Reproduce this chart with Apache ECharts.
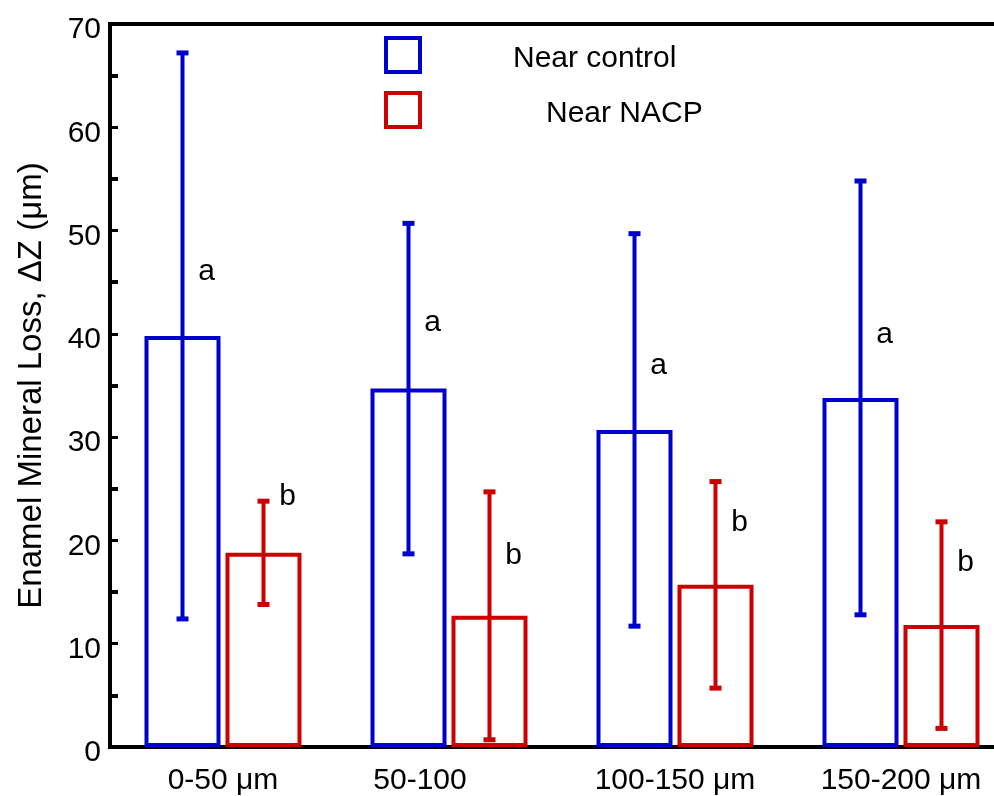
<!DOCTYPE html>
<html><head><meta charset="utf-8">
<script src="https://cdn.jsdelivr.net/npm/echarts@6/dist/echarts.min.js"></script>
<style>html,body{margin:0;padding:0;background:#fff}#c{width:994px;height:796px}</style>
</head><body><div id="c"></div>
<script>
const categories = ['0-50 μm', '50-100', '100-150 μm', '150-200 μm'];
const controlMean = [39.8, 34.7, 30.7, 33.8];
const controlSD = [27.4, 16.0, 19.0, 21.0];
const nacpMean = [18.8, 12.7, 15.7, 11.8];
const nacpSD = [5.0, 12.0, 10.0, 10.0];
const controlLetters = ['a', 'a', 'a', 'a'];
const controlLetterY = [46.0, 41.1, 36.9, 39.9];
const nacpLetters = ['b', 'b', 'b', 'b'];
const nacpLetterY = [24.2, 18.5, 21.7, 17.8];
const yTicks = [0, 10, 20, 30, 40, 50, 60, 70];

const BLUE = '#0000cc', RED = '#cc0000';
const FONT = 'Liberation Sans, Arial, sans-serif';
const BW = 76, GAP = 5; // px
const OFF = (BW + GAP) / 2;

function errRender(offset, color) {
  return function (params, api) {
    const i = api.value(0);
    const m = api.value(1), s = api.value(2);
    const x = api.coord([i, 0])[0] + offset;
    const yt = api.coord([i, m + s])[1];
    const yb = api.coord([i, m - s])[1];
    const st = { stroke: color, lineWidth: 4 };
    const cap = { stroke: color, lineWidth: 5 };
    return { type: 'group', children: [
      { type: 'line', shape: { x1: x, y1: yt, x2: x, y2: yb }, style: st },
      { type: 'line', shape: { x1: x - 6, y1: yt, x2: x + 6, y2: yt }, style: cap },
      { type: 'line', shape: { x1: x - 6, y1: yb, x2: x + 6, y2: yb }, style: cap }
    ]};
  };
}
function letterRender(offset, letters) {
  return function (params, api) {
    const i = api.value(0);
    const p = api.coord([i, api.value(1)]);
    return { type: 'text', x: p[0] + offset + 24, y: p[1],
      style: { text: letters[i], fontSize: 30, fontFamily: FONT, fill: '#000', align: 'center', verticalAlign: 'middle' } };
  };
}

const legendText = (padLeft) => ({ fontSize: 30, fontFamily: FONT, color: '#000',
  rich: { t: { fontSize: 30, fontFamily: FONT, color: '#000', padding: [8, 0, 0, padLeft] } } });

const chart = echarts.init(document.getElementById('c'), null, { renderer: 'canvas' });
chart.setOption({
  animation: false,
  backgroundColor: '#fff',
  grid: { left: 110, top: 24, width: 904, bottom: 49, show: true, borderColor: '#000', borderWidth: 4,
    backgroundColor: 'transparent', containLabel: false, outerBoundsMode: 'none' },
  legend: [
    { data: ['Near control'], left: 379, top: 31, itemWidth: 34, itemHeight: 34, icon: 'rect', selectedMode: false,
      itemStyle: { borderWidth: 4, color: '#fff' }, formatter: '{t|{name}}', textStyle: legendText(88) },
    { data: ['Near NACP'], left: 379, top: 86, itemWidth: 34, itemHeight: 34, icon: 'rect', selectedMode: false,
      itemStyle: { borderWidth: 4, color: '#fff' }, formatter: '{t|{name}}', textStyle: legendText(121) }
  ],
  xAxis: {
    type: 'category', data: categories,
    axisLine: { lineStyle: { color: '#000', width: 4 } },
    axisTick: { show: false },
    axisLabel: { fontSize: 30, fontFamily: FONT, color: '#000', margin: 19,
      formatter: v => v === '50-100' ? '{p|50-100}' : v,
      rich: { p: { fontSize: 30, fontFamily: FONT, color: '#000', padding: [0, 58, 0, 0] } } }
  },
  yAxis: {
    type: 'value', min: 0, max: 70, interval: 10,
    name: 'Enamel Mineral Loss, ΔZ (μm)', nameLocation: 'middle', nameGap: 62,
    nameTextStyle: { fontSize: 33, fontFamily: FONT, color: '#000' },
    axisLine: { show: true, lineStyle: { color: '#000', width: 4 } },
    axisTick: { show: true, inside: true, length: 8, lineStyle: { color: '#000', width: 3 } },
    minorTick: { show: true, splitNumber: 2, length: 8, lineStyle: { color: '#000', width: 4 } },
    splitLine: { show: false },
    axisLabel: { fontSize: 30, fontFamily: FONT, color: '#000', margin: 9,
      formatter: v => yTicks.includes(v) ? '{v|' + v + '}' : '',
      rich: { v: { fontSize: 30, fontFamily: FONT, color: '#000', padding: [12, 0, 0, 0] } } }
  },
  series: [
    { name: 'Near control', type: 'bar', data: controlMean, barWidth: BW, barGap: (GAP / BW * 100) + '%',
      itemStyle: { color: 'rgba(255,255,255,0)', borderColor: BLUE, borderWidth: 4 }, z: 2 },
    { name: 'Near NACP', type: 'bar', data: nacpMean, barWidth: BW,
      itemStyle: { color: 'rgba(255,255,255,0)', borderColor: RED, borderWidth: 4 }, z: 2 },
    { type: 'custom', renderItem: errRender(-OFF, BLUE), z: 3,
      data: controlMean.map((m, i) => [i, m, controlSD[i]]), encode: { x: 0, y: 1 } },
    { type: 'custom', renderItem: errRender(OFF, RED), z: 3,
      data: nacpMean.map((m, i) => [i, m, nacpSD[i]]), encode: { x: 0, y: 1 } },
    { type: 'custom', renderItem: letterRender(-OFF, controlLetters), z: 4,
      data: controlLetterY.map((y, i) => [i, y]), encode: { x: 0, y: 1 } },
    { type: 'custom', renderItem: letterRender(OFF, nacpLetters), z: 4,
      data: nacpLetterY.map((y, i) => [i, y]), encode: { x: 0, y: 1 } }
  ]
});
</script></body></html>
